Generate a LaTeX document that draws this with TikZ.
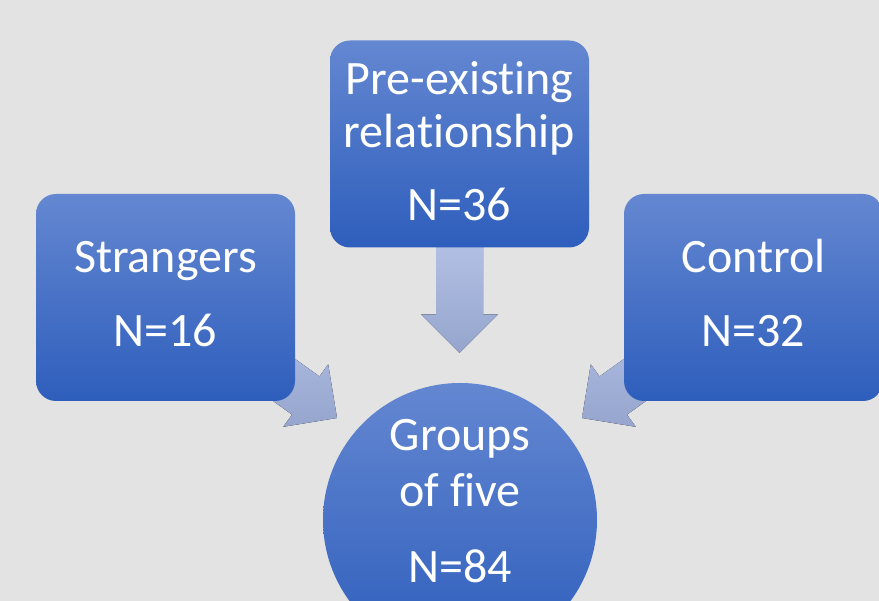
\documentclass[tikz,border=0pt]{standalone}
\usepackage{fontspec}
\setmainfont[Ligatures=NoCommon]{Carlito}
\definecolor{bg}{HTML}{E3E3E3}
\definecolor{boxtop}{HTML}{6487D1}
\definecolor{boxbot}{HTML}{2E5EBC}
\definecolor{arrtop}{HTML}{B2C0E5}
\definecolor{arrbot}{HTML}{96A5CD}
\tikzset{
  boxnode/.style={rectangle, rounded corners=20pt, minimum width=259pt, minimum height=207pt, top color=boxtop, bottom color=boxbot, draw=none, inner sep=0pt},
  circnode/.style={circle, minimum size=274pt, top color=boxtop, bottom color=boxbot, draw=none, inner sep=0pt},
  lbl/.style={text=white, font=\fontsize{48}{54}\selectfont, anchor=base, inner sep=0pt},
  blockarrow/.style={top color=arrtop, bottom color=arrbot, draw=none}
}
% #1 tip coordinate name, #2 direction angle, #3 shaft length back from tip
\newcommand\myblockarrow[3]{%
  \fill[blockarrow]
    ([shift={(#1)},rotate=#2]0,0) --
    ([shift={(#1)},rotate=#2]-38.5,38.5) --
    ([shift={(#1)},rotate=#2]-38.5,23.5) --
    ([shift={(#1)},rotate=#2]-#3,23.5) --
    ([shift={(#1)},rotate=#2]-#3,-23.5) --
    ([shift={(#1)},rotate=#2]-38.5,-23.5) --
    ([shift={(#1)},rotate=#2]-38.5,-38.5) -- cycle;}
\begin{document}
\begin{tikzpicture}[x=1pt,y=1pt]
\fill[bg] (0,0) rectangle (879,601);
\useasboundingbox (0,0) rectangle (879,601);
% block arrows (drawn first, under the boxes)
\coordinate (tipL) at (337,183);
\coordinate (tipD) at (459.5,248);
\coordinate (tipR) at (582,183);
\myblockarrow{tipL}{-35.7}{150}
\myblockarrow{tipR}{215.7}{150}
\myblockarrow{tipD}{-90}{110}
% boxes
\node[boxnode] (str) at (165.5,303.5) {};
\node[boxnode] (pre) at (459.5,457) {};
\node[boxnode] (ctl) at (753.5,303.5) {};
\node[circnode] (grp) at (460,81) {};
% labels
\node[lbl] (strA) at (165.5,328) {Strangers};
\node[lbl] (strB) at (165.5,254) {N=16};
\node[lbl] (preA) at (459.5,506) {Pre-existing};
\node[lbl] (preB) at (459.5,453) {relationship};
\node[lbl] (preC) at (459.5,380) {N=36};
\node[lbl] (ctlA) at (753.5,328) {Control};
\node[lbl] (ctlB) at (753.5,254) {N=32};
\node[lbl] (grpA) at (460,150) {Groups};
\node[lbl] (grpB) at (460,94) {of five};
\node[lbl] (grpC) at (460,18) {N=84};
\end{tikzpicture}
\end{document}
